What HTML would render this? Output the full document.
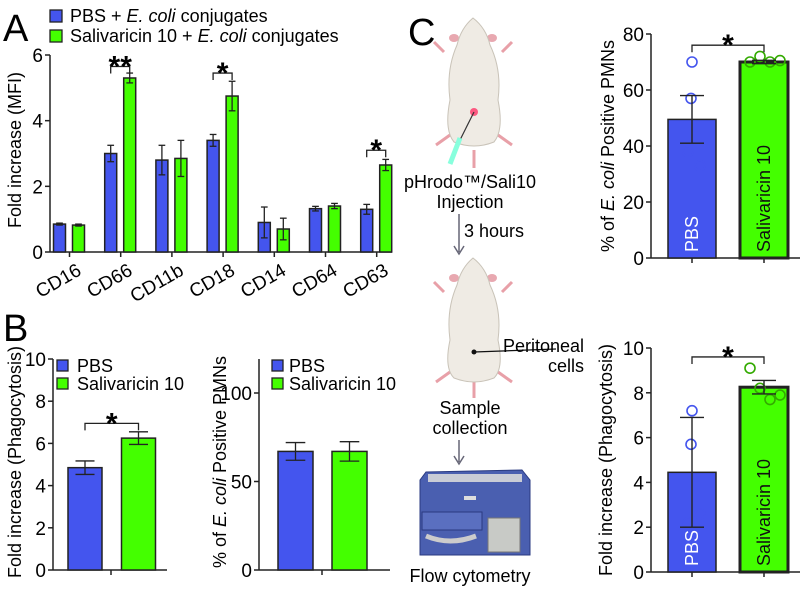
<!DOCTYPE html>
<html><head><meta charset="utf-8"><style>
body{margin:0;background:#fff}
svg{display:block;font-family:"Liberation Sans",Arial,sans-serif}
</style></head><body>
<svg id="fig" width="802" height="595" viewBox="0 0 802 595">
<g id="static">
<text x="3" y="41" font-size="38">A</text>
<text x="3" y="341" font-size="38">B</text>
<text x="408" y="45" font-size="38">C</text>
<g>
<rect x="50" y="10" width="12" height="12" fill="#4455ee" stroke="#222" stroke-width="1.3"/>
<text x="70" y="22" font-size="18">PBS + <tspan font-style="italic">E. coli</tspan> conjugates</text>
<rect x="50" y="30" width="12" height="12" fill="#44ff00" stroke="#222" stroke-width="1.3"/>
<text x="70" y="42" font-size="18">Salivaricin 10 + <tspan font-style="italic">E. coli</tspan> conjugates</text>
</g>
<text transform="translate(21,150) rotate(-90)" text-anchor="middle" font-size="18">Fold increase (MFI)</text>
<text transform="translate(21,462) rotate(-90)" text-anchor="middle" font-size="18">Fold increase (Phagocytosis)</text>
<text transform="translate(226,462) rotate(-90)" text-anchor="middle" font-size="18">% of <tspan font-style="italic">E. coli</tspan> Positive PMNs</text>
<text transform="translate(614,146) rotate(-90)" text-anchor="middle" font-size="18">% of <tspan font-style="italic">E. coli</tspan> Positive PMNs</text>
<text transform="translate(612,460) rotate(-90)" text-anchor="middle" font-size="18">Fold increase (Phagocytosis)</text>
<g>
<rect x="57" y="360" width="11" height="11" fill="#4455ee" stroke="#222" stroke-width="1.3"/>
<text x="77" y="372" font-size="18">PBS</text>
<rect x="57" y="378" width="11" height="11" fill="#44ff00" stroke="#222" stroke-width="1.3"/>
<text x="77" y="390" font-size="18">Salivaricin 10</text>
</g>
<g>
<rect x="272" y="360" width="11" height="11" fill="#4455ee" stroke="#222" stroke-width="1.3"/>
<text x="289" y="372" font-size="18">PBS</text>
<rect x="272" y="378" width="11" height="11" fill="#44ff00" stroke="#222" stroke-width="1.3"/>
<text x="289" y="390" font-size="18">Salivaricin 10</text>
</g>
<g>
<path d="M444 52 L434 42 M502 52 L512 42" stroke="#e8a0a8" stroke-width="3"/>
<path d="M450 135 L436 145 M498 135 L512 145 M474 150 L474 168" stroke="#e8a0a8" stroke-width="3"/>
<ellipse cx="454" cy="38" rx="5" ry="4" fill="#e8a8b0"/><ellipse cx="492" cy="38" rx="5" ry="4" fill="#e8a8b0"/>
<path d="M473 18 Q486 28 490 45 Q502 70 498 100 Q504 130 494 142 Q474 150 454 142 Q444 130 450 100 Q446 70 457 45 Q461 28 473 18Z" fill="#efebe4" stroke="#c9c3b8"/>
<circle cx="474" cy="112" r="4" fill="#ff3366" opacity="0.8"/>
<path d="M474 112 L460 140" stroke="#333" stroke-width="1.2"/>
<path d="M460 138 L450 164" stroke="#8fd" stroke-width="5"/>
</g>
<text x="470" y="188" text-anchor="middle" font-size="18">pHrodo™/Sali10</text>
<text x="470" y="208" text-anchor="middle" font-size="18">Injection</text>
<path d="M459 214 L459 252 M454 246 L459 254 L464 246" stroke="#667" stroke-width="1.5" fill="none"/>
<text x="464" y="237" font-size="18">3 hours</text>
<g>
<path d="M444 292 L434 282 M502 292 L512 282" stroke="#e8a0a8" stroke-width="3"/>
<path d="M450 372 L436 382 M498 372 L512 382 M474 380 L474 398" stroke="#e8a0a8" stroke-width="3"/>
<ellipse cx="454" cy="278" rx="5" ry="4" fill="#e8a8b0"/><ellipse cx="492" cy="278" rx="5" ry="4" fill="#e8a8b0"/>
<path d="M473 258 Q486 268 490 285 Q502 310 498 340 Q504 368 494 378 Q474 386 454 378 Q444 368 450 340 Q446 310 457 285 Q461 268 473 258Z" fill="#efebe4" stroke="#c9c3b8"/>
<circle cx="474" cy="352" r="2.5" fill="#111"/><path d="M474 352 L556 349" stroke="#111" stroke-width="1.2"/>
</g>
<text x="584" y="352" text-anchor="end" font-size="18">Peritoneal</text>
<text x="584" y="372" text-anchor="end" font-size="18">cells</text>
<text x="470" y="414" text-anchor="middle" font-size="18">Sample</text>
<text x="470" y="434" text-anchor="middle" font-size="18">collection</text>
<path d="M459 440 L459 462 M454 456 L459 464 L464 456" stroke="#667" stroke-width="1.5" fill="none"/>
<g>
<path d="M426 472 L522 470 L530 480 L530 555 L420 555 L420 480Z" fill="#4a5fb0" stroke="#2a3a80"/>
<rect x="428" y="474" width="94" height="8" fill="#c9ccd6"/>
<rect x="422" y="512" width="60" height="18" fill="#5a6fc0" stroke="#2a3a80"/>
<rect x="488" y="518" width="32" height="34" fill="#c8cac6" stroke="#777"/>
<path d="M426 536 Q450 546 476 536" stroke="#ccc" stroke-width="5" fill="none"/>
<rect x="464" y="496" width="12" height="4" fill="#ddd"/>
</g>
<text x="470" y="582" text-anchor="middle" font-size="18">Flow cytometry</text>
</g>
<g id="charts"></g>
</svg>
<script>
const BLUE="#4455ee", GREEN="#44ff00";
// Panel A data
const catsA=["CD16","CD66","CD11b","CD18","CD14","CD64","CD63"];
const pbsA=[0.85,3.0,2.8,3.4,0.9,1.32,1.3];
const pbsAerr=[0.03,0.25,0.45,0.18,0.47,0.07,0.15];
const salA=[0.82,5.3,2.85,4.75,0.7,1.4,2.65];
const salAerr=[0.03,0.15,0.55,0.45,0.33,0.08,0.17];
const ticksA=[0,2,4,6];
// Panel B data
const b1Vals=[4.85,6.25], b1Err=[0.32,0.3], ticksB1=[0,2,4,6,8,10];
const b2Vals=[67,67], b2Err=[5,5.5], ticksB2=[0,50,100];
// Panel C data
const c1Vals=[49.5,70], c1Err=[8.5,0.6];
const c1PtsPbs=[70,57,38,33], c1PtsSal=[70,72,70,70.5];
const ticksC1=[0,20,40,60,80];
const c2Vals=[4.45,8.25], c2Err=[2.45,0.3];
const c2PtsPbs=[7.2,5.7,2.2,2.6], c2PtsSal=[9.1,8.2,7.7,7.9];
const ticksC2=[0,2,4,6,8,10];

const NS="http://www.w3.org/2000/svg";
const root=document.getElementById("charts");
function el(tag,attrs,parent){const e=document.createElementNS(NS,tag);for(const k in attrs)e.setAttribute(k,attrs[k]);(parent||root).appendChild(e);return e;}
function lin(d0,d1,r0,r1){return v=>r0+(v-d0)*(r1-r0)/(d1-d0);}

function axisY(x,y,ticks,yTop,fs,name){
  const a=el("line",{x1:x,x2:x,y1:y(0),y2:yTop,stroke:"#222","stroke-width":1.5});
  
  
  ticks.forEach(t=>{
    el("line",{x1:x-5,x2:x,y1:y(t),y2:y(t),stroke:"#222","stroke-width":1.5});
    const tx=el("text",{x:x-7,y:y(t)+7,"text-anchor":"end","font-size":fs});
    tx.textContent=t;
    
    
  });
}
function bar(cx,w,v,err,y,fill,name,sw){
  const r=el("rect",{x:cx-w/2,y:y(v),width:w,height:y(0)-y(v),fill:fill,stroke:"#222","stroke-width":sw||1.5});
  
  
  if(err!=null){
    el("line",{x1:cx,x2:cx,y1:y(v-err),y2:y(v+err),stroke:"#222","stroke-width":1.3});
    el("line",{x1:cx-w*0.28,x2:cx+w*0.28,y1:y(v+err),y2:y(v+err),stroke:"#222","stroke-width":1.3});
    el("line",{x1:cx-w*0.28,x2:cx+w*0.28,y1:y(v-err),y2:y(v-err),stroke:"#222","stroke-width":1.3});
  }
}
function sig(x1,x2,yy,label,name){
  const p=el("path",{d:`M${x1} ${yy+7} L${x1} ${yy} L${x2} ${yy} L${x2} ${yy+7}`,stroke:"#222","stroke-width":1.3,fill:"none"});
  
  
  const t=el("text",{x:(x1+x2)/2,y:yy+10,"text-anchor":"middle","font-size":30,"font-weight":"bold"});
  t.textContent=label;
  
  
}

// Panel A
(function(){
  const y=lin(0,6,252,55);
  axisY(50,y,ticksA,55,19,"a");
  el("line",{x1:50,x2:392,y1:252,y2:252,stroke:"#222","stroke-width":1.5});
  catsA.forEach((c,i)=>{
    const gc=69.5+i*51.2;
    bar(gc-10,12,pbsA[i],pbsAerr[i],y,BLUE,"bar-pbs-"+c);
    bar(gc+9,12,salA[i],salAerr[i],y,GREEN,"bar-sal-"+c);
    el("line",{x1:gc,x2:gc,y1:252,y2:257,stroke:"#222","stroke-width":1.5});
    const t=el("text",{transform:`translate(${gc+13},${274}) rotate(-30)`,"text-anchor":"end","font-size":19});
    t.textContent=c;
    
    
  });
  sig(69.5+51.2-10,69.5+51.2+9,y(5.65),"**","sig-cd66");
  sig(69.5+3*51.2-10,69.5+3*51.2+9,y(5.45),"*","sig-cd18");
  sig(69.5+6*51.2-10,69.5+6*51.2+9,y(3.1),"*","sig-cd63");
})();
// Panel B1
(function(){
  const y=lin(0,10,570,359);
  axisY(53,y,ticksB1,359,19,"b1");
  el("line",{x1:53,x2:167,y1:570,y2:570,stroke:"#222","stroke-width":1.5});
  el("line",{x1:111,x2:111,y1:570,y2:575,stroke:"#222","stroke-width":1.5});
  bar(85,34,b1Vals[0],b1Err[0],y,BLUE,"bar-b1-pbs");
  bar(138.5,34,b1Vals[1],b1Err[1],y,GREEN,"bar-b1-sal");
  sig(85,138.5,y(6.95),"*","sig-b1");
})();
// Panel B2
(function(){
  const y=lin(0,100,570,393);
  axisY(259,y,ticksB2,359,19,"b2");
  el("line",{x1:259,x2:390,y1:570,y2:570,stroke:"#222","stroke-width":1.5});
  el("line",{x1:322,x2:322,y1:570,y2:575,stroke:"#222","stroke-width":1.5});
  bar(295.5,35,b2Vals[0],b2Err[0],y,BLUE,"bar-b2-pbs");
  bar(349.5,35,b2Vals[1],b2Err[1],y,GREEN,"bar-b2-sal");
})();
function panelC(y,vals,errs,pp,ps,ticks,top,name,sigv){
  axisY(651,y,ticks,top,19,name);
  el("line",{x1:651,x2:800,y1:y(0),y2:y(0),stroke:"#222","stroke-width":1.5});
  const xs=[692,764];
  xs.forEach(x=>el("line",{x1:x,x2:x,y1:y(0),y2:y(0)+5,stroke:"#222","stroke-width":1.5}));
  bar(xs[0],48,vals[0],null,y,BLUE,name+"-bar-pbs",1.5);
  bar(xs[1],48,vals[1],null,y,GREEN,name+"-bar-sal",3);
  const t1=el("text",{transform:`translate(${xs[0]+6},${y(0)-6}) rotate(-90)`,"font-size":18,fill:"#fff"});t1.textContent="PBS";
  
  
  const t2=el("text",{transform:`translate(${xs[1]+6},${y(0)-6}) rotate(-90)`,"font-size":18,fill:"#111"});t2.textContent="Salivaricin 10";
  
  
  pp.forEach((v,i)=>{const c=el("circle",{cx:xs[0]+[0,-1,-4,8][i],cy:y(v),r:5,fill:"none",stroke:BLUE,"stroke-width":1.6});
    
    });
  ps.forEach((v,i)=>{const c=el("circle",{cx:xs[1]-14+i*10,cy:y(v),r:5,fill:"none",stroke:"#33aa00","stroke-width":1.6});
    
    });
  [0,1].forEach(i=>{
    const v=vals[i],e=errs[i],x=xs[i];
    el("line",{x1:x,x2:x,y1:y(v-e),y2:y(v+e),stroke:"#222","stroke-width":1.4});
    el("line",{x1:x-12,x2:x+12,y1:y(v+e),y2:y(v+e),stroke:"#222","stroke-width":1.4});
    el("line",{x1:x-12,x2:x+12,y1:y(v-e),y2:y(v-e),stroke:"#222","stroke-width":1.4});
  });
  sig(xs[0],xs[1],y(sigv),"*",name+"-sig");
}
panelC(lin(0,80,258,34),c1Vals,c1Err,c1PtsPbs,c1PtsSal,ticksC1,34,"c1",76);
panelC(lin(0,10,572,348),c2Vals,c2Err,c2PtsPbs,c2PtsSal,ticksC2,348,"c2",9.6);
</script>
</body></html>
